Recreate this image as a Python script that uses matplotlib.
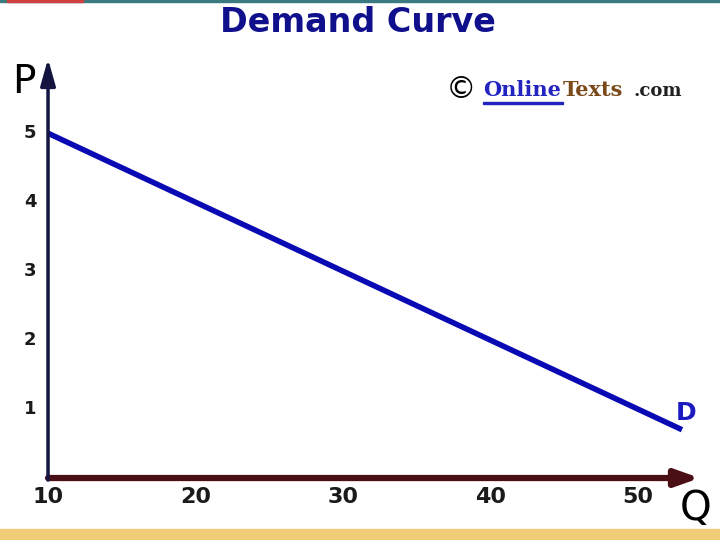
import matplotlib.pyplot as plt
from matplotlib.patches import Rectangle

# demand curve data
quantity = [10, 53]
price = [5.0, 0.7]
x_ticks = [10, 20, 30, 40, 50]
y_ticks = [1, 2, 3, 4, 5]

fig = plt.figure(figsize=(7.2, 5.4), dpi=100)
fig.patch.set_facecolor('white')

# top strip and bottom band decorations
fig.patches.append(Rectangle((0, 0.996), 1, 0.004, transform=fig.transFigure,
                             color='#3a7a80', zorder=0))
fig.patches.append(Rectangle((0.01, 0.996), 0.105, 0.004, transform=fig.transFigure,
                             color='#d04040', zorder=1))
fig.patches.append(Rectangle((0, 0), 1, 0.02, transform=fig.transFigure,
                             color='#f2cd78', zorder=0))

ax = fig.add_axes([0.0667, 0.1148, 0.901, 0.770])
ax.set_xlim(10, 54)
ax.set_ylim(0, 6.03)
for s in ax.spines.values():
    s.set_visible(False)
ax.set_xticks([])
ax.set_yticks([])

# axes with arrows
ax.annotate('', xy=(54.2, 0), xytext=(10, 0),
            arrowprops=dict(arrowstyle='-|>,head_length=1.4,head_width=0.5',
                            color='#4a0f14', lw=4.5, shrinkA=0, shrinkB=0),
            annotation_clip=False)
ax.annotate('', xy=(10, 6.08), xytext=(10, -0.03),
            arrowprops=dict(arrowstyle='-|>,head_length=1.6,head_width=0.45',
                            color='#141440', lw=2.5, shrinkA=0, shrinkB=0),
            annotation_clip=False)

ax.plot(quantity, price, color='#0a0ab4', lw=4, solid_capstyle='butt')
ax.text(53.3, 0.95, 'D', color='#1a1ac0', fontsize=18, fontweight='bold',
        ha='center', va='center')

for q in x_ticks:
    ax.text(q, -0.13, str(q), fontsize=16, fontweight='bold', color='#1a1a1a',
            ha='center', va='top')
for p in y_ticks:
    ax.text(8.8, p, str(p), fontsize=13, fontweight='bold', color='#1a1a1a',
            ha='center', va='center')

fig.text(0.033, 0.848, 'P', fontsize=28, color='black', ha='center', va='center')
fig.text(0.966, 0.057, 'Q', fontsize=29, color='black', ha='center', va='center')

fig.text(0.497, 0.958, 'Demand Curve', fontsize=24, fontweight='bold',
         color='#10108c', ha='center', va='center')

# logo
fig.text(0.640, 0.834, '©', fontsize=22, color='black', ha='center', va='center')
fig.text(0.671, 0.834, 'Online', fontsize=15, fontweight='bold', color='#2323c0',
         family='DejaVu Serif', ha='left', va='center')
fig.patches.append(Rectangle((0.671, 0.808), 0.111, 0.003, transform=fig.transFigure,
                             color='#2323c0'))
fig.text(0.782, 0.834, 'Texts', fontsize=15, fontweight='bold', color='#7a4a1a',
         family='DejaVu Serif', ha='left', va='center')
fig.text(0.880, 0.832, '.com', fontsize=13, fontweight='bold', color='#202020',
         family='DejaVu Serif', ha='left', va='center')

fig.savefig('out.png', dpi=100)
